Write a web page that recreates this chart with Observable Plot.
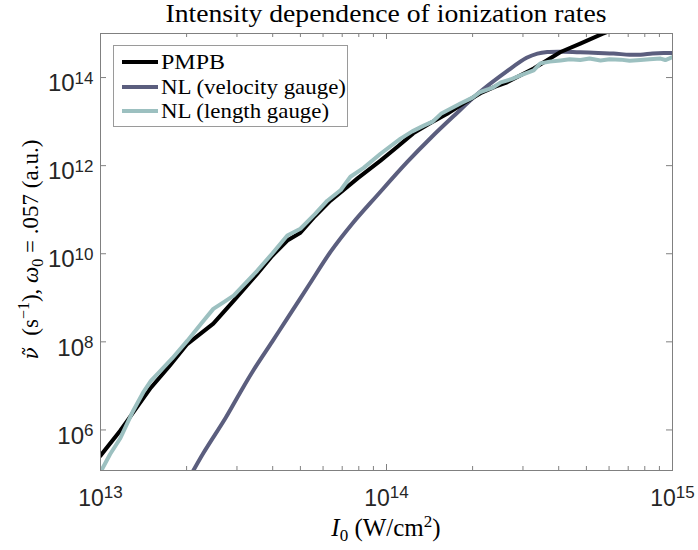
<!DOCTYPE html>
<html><head><meta charset="utf-8">
<script src="https://cdn.jsdelivr.net/npm/d3@7"></script>
<script src="https://cdn.jsdelivr.net/npm/@observablehq/plot@0.6"></script>
<style>body{margin:0;background:#fff}svg{display:block}</style>
</head><body><div id="chart"></div>
<script>
const titleText = "Intensity dependence of ionization rates";
const seriesNames = ["PMPB", "NL (velocity gauge)", "NL (length gauge)"];
const seriesColors = ["#000000", "#5b5e7e", "#9cc0c0"];

const pmpbI = [1.00e13,1.17e13,1.24e13,1.50e13,1.74e13,2.01e13,2.48e13,2.92e13,3.53e13,3.98e13,4.50e13,5.00e13,5.62e13,6.37e13,7.08e13,7.94e13,9.53e13,1.10e14,1.24e14,1.41e14,1.63e14,1.86e14,2.13e14,2.40e14,2.64e14,3.27e14,4.06e14,4.76e14,5.68e14,6.30e14];
const pmpbRate = [2.6e5,9.5e5,1.6e6,9.1e6,2.8e7,8.9e7,2.6e8,8.5e8,3.5e9,8.9e9,2.0e10,3.0e10,7.1e10,1.6e11,2.8e11,5.2e11,1.3e12,2.8e12,5.4e12,8.9e12,1.5e13,2.6e13,4.4e13,6.2e13,7.8e13,1.6e14,3.8e14,5.9e14,9.8e14,1.26e15];

const velI = [2.04e13,2.29e13,2.74e13,3.09e13,3.43e13,3.98e13,4.50e13,5.37e13,6.37e13,7.59e13,9.27e13,1.18e14,1.43e14,1.71e14,2.13e14,2.64e14,3.09e14,3.37e14,3.65e14,4.17e14,4.76e14,5.50e14,6.22e14,7.08e14,7.73e14,8.51e14,9.31e14,1.00e15];
const velRate = [8.0e4,3.0e5,1.9e6,7.4e6,2.3e7,1.0e8,3.4e8,2.0e9,1.1e10,4.8e10,2.1e11,1.2e12,4.3e12,1.3e13,4.8e13,1.4e14,2.8e14,3.5e14,3.8e14,3.85e14,3.75e14,3.6e14,3.5e14,3.3e14,3.3e14,3.5e14,3.6e14,3.6e14];

const lenI = [1.00e13,1.08e13,1.17e13,1.30e13,1.41e13,1.50e13,1.62e13,1.78e13,2.01e13,2.24e13,2.48e13,2.69e13,2.92e13,3.53e13,3.98e13,4.50e13,5.00e13,5.62e13,6.21e13,6.92e13,7.48e13,8.32e13,9.53e13,1.12e14,1.23e14,1.35e14,1.45e14,1.55e14,1.82e14,2.00e14,2.13e14,2.34e14,2.51e14,2.75e14,2.94e14,3.27e14,3.45e14,3.72e14,4.06e14,4.37e14,4.76e14,5.13e14,5.60e14,6.03e14,6.58e14,7.08e14,7.73e14,8.32e14,9.08e14,9.44e14,1.00e15];
const lenRate = [1.1e5,2.8e5,6.3e5,2.7e6,7.1e6,1.3e7,2.2e7,4.2e7,1.05e8,2.5e8,5.6e8,7.9e8,1.12e9,4.1e9,1.0e10,2.6e10,3.7e10,7.9e10,1.6e11,2.8e11,5.6e11,8.9e11,1.86e12,4.1e12,6.0e12,8.1e12,1.0e13,1.5e13,2.6e13,3.5e13,4.7e13,5.8e13,7.8e13,9.3e13,1.12e14,1.45e14,2.1e14,2.3e14,2.45e14,2.6e14,2.5e14,2.7e14,2.45e14,2.6e14,2.55e14,2.4e14,2.5e14,2.6e14,2.7e14,2.5e14,2.9e14];

const xTickValues = [1e13, 1e14, 1e15];
const xMinorValues = [2e13,3e13,4e13,5e13,6e13,7e13,8e13,9e13,2e14,3e14,4e14,5e14,6e14,7e14,8e14,9e14];
const yTickValues = [1e6, 1e8, 1e10, 1e12, 1e14];
const xDomain = [1e13, 1e15];
const yDomain = [1.2e5, 1e15];

const W = 698, H = 550, mL = 100, mR = 26, mT = 33, mB = 80;
const fw = W - mL - mR, fh = H - mT - mB;
const axisGray = "#808080";
const tickFmt = d => "10^" + Math.round(Math.log10(d));

const toRows = (xs, ys) => xs.map((x, i) => ({I: x, rate: ys[i]}));
const series = [toRows(pmpbI, pmpbRate), toRows(velI, velRate), toRows(lenI, lenRate)];

const plot = Plot.plot({
  width: W, height: H,
  marginLeft: mL, marginRight: mR, marginTop: mT, marginBottom: mB,
  style: {fontFamily: "'Liberation Sans', Arial, sans-serif", fontSize: "23px", color: "#262626", background: "#fff"},
  x: {type: "log", domain: xDomain, label: null},
  y: {type: "log", domain: yDomain, label: null},
  marks: [
    Plot.line(series[1], {x: "I", y: "rate", stroke: seriesColors[1], strokeWidth: 4, curve: "catmull-rom", clip: true}),
    Plot.line(series[0], {x: "I", y: "rate", stroke: seriesColors[0], strokeWidth: 4, clip: true}),
    Plot.line(series[2], {x: "I", y: "rate", stroke: seriesColors[2], strokeWidth: 4, clip: true}),
    Plot.frame({stroke: axisGray, strokeWidth: 1}),
    Plot.tickX(xTickValues, {insetTop: fh - 6, stroke: axisGray}),
    Plot.tickX(xTickValues, {insetBottom: fh - 6, stroke: axisGray}),
    Plot.tickX(xMinorValues, {insetTop: fh - 4, stroke: axisGray}),
    Plot.tickX(xMinorValues, {insetBottom: fh - 4, stroke: axisGray}),
    Plot.tickY(yTickValues, {insetRight: fw - 6, stroke: axisGray}),
    Plot.tickY(yTickValues, {insetLeft: fw - 6, stroke: axisGray}),
    Plot.axisX(xTickValues, {anchor: "bottom", tickSize: 0, tickPadding: 19, tickFormat: tickFmt, label: null, fill: "#262626"}),
    Plot.axisY(yTickValues, {anchor: "left", tickSize: 0, tickPadding: 7, tickFormat: tickFmt, label: null, dy: 6, fontSize: 24, fill: "#262626"})
  ]
});

const ns = "http://www.w3.org/2000/svg";
plot.querySelectorAll('g[aria-label="x-axis tick label"] text, g[aria-label="y-axis tick label"] text').forEach(t => {
  const parts = t.textContent.split("^");
  t.textContent = "";
  const a = document.createElementNS(ns, "tspan"); a.textContent = parts[0]; t.appendChild(a);
  const b = document.createElementNS(ns, "tspan"); b.textContent = parts[1];
  b.setAttribute("dy", "-0.45em"); b.setAttribute("font-size", "17px"); t.appendChild(b);
});

const svg = d3.select(plot);
const serif = "'Liberation Serif', 'Times New Roman', serif";
const cx = mL + fw / 2;

svg.append("text").attr("x", cx).attr("y", 22).attr("text-anchor", "middle")
  .attr("font-family", serif).attr("font-size", 25).attr("fill", "#000")
  .attr("textLength", 441).attr("lengthAdjust", "spacingAndGlyphs").text(titleText);

// x label
const xl = svg.append("text").attr("x", cx).attr("y", 536).attr("text-anchor", "middle")
  .attr("font-family", serif).attr("font-size", 25).attr("fill", "#000");
xl.append("tspan").attr("font-style", "italic").text("I");
xl.append("tspan").attr("font-size", 17).attr("dy", 5).text("0");
xl.append("tspan").attr("dy", -5).text(" (W/cm");
xl.append("tspan").attr("font-size", 17).attr("dy", -9).text("2");
xl.append("tspan").attr("dy", 9).text(")");

// y label
const yl = svg.append("text").attr("transform", `translate(38,${mT + fh / 2 - 2}) rotate(-90)`)
  .attr("text-anchor", "middle").attr("font-family", serif).attr("font-size", 23).attr("fill", "#000");
yl.append("tspan").attr("font-style", "italic").attr("font-family", "'DejaVu Serif', serif").attr("font-size", 20).text("\u03BD\u0303");
yl.append("tspan").text("\u2002(s");
yl.append("tspan").attr("font-size", 16).attr("dy", -9).text("\u22121");
yl.append("tspan").attr("dy", 9).text("), ");
yl.append("tspan").attr("font-style", "italic").text("\u03C9");
yl.append("tspan").attr("font-size", 16).attr("dy", 5).text("0");
yl.append("tspan").attr("dy", -5).text(" = .057 (a.u.)");

// legend
const lg = svg.append("g");
lg.append("rect").attr("x", 113.5).attr("y", 45.5).attr("width", 234).attr("height", 81)
  .attr("fill", "#fff").attr("stroke", "#9a9a9a").attr("stroke-width", 1);
const rowsY = [62, 87, 111];
const textLens = [64, 185, 168];
seriesNames.forEach((name, i) => {
  lg.append("line").attr("x1", 122).attr("x2", 158).attr("y1", rowsY[i]).attr("y2", rowsY[i])
    .attr("stroke", seriesColors[i]).attr("stroke-width", 4);
  lg.append("text").attr("x", 161).attr("y", rowsY[i] + 7).attr("text-anchor", "start")
    .attr("font-family", serif).attr("font-size", 22).attr("fill", "#000")
    .attr("textLength", textLens[i]).attr("lengthAdjust", "spacingAndGlyphs").text(name);
});

document.getElementById("chart").appendChild(plot);
</script></body></html>
